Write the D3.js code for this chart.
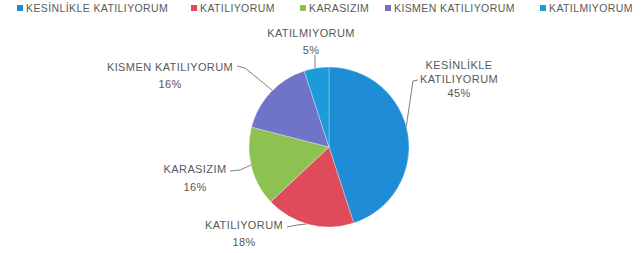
<!DOCTYPE html>
<html>
<head>
<meta charset="utf-8">
<script src="https://cdn.jsdelivr.net/npm/d3@7"></script>
<style>
  body { margin: 0; background: #fff; }
  svg text { font-family: "Liberation Sans", Arial, sans-serif; fill: #595959; letter-spacing: 0.4px; }
</style>
</head>
<body>
<script>
// answers, in the order the pie is drawn (clockwise from 12 o'clock)
let categories = ["KESİNLİKLE KATILIYORUM", "KATILIYORUM", "KARASIZIM", "KISMEN KATILIYORUM", "KATILMIYORUM"];
let percents = [45, 18, 16, 16, 5];
// label lines as shown next to each slice
let labelLines = [
    ["KESİNLİKLE", "KATILIYORUM"],
    ["KATILIYORUM"],
    ["KARASIZIM"],
    ["KISMEN KATILIYORUM"],
    ["KATILMIYORUM"]
];

let width = 642,
    height = 253;

let cx = 329, cy = 147, radius = 80;

let svg = d3.select("body").append("svg")
    .attr("width", width)
    .attr("height", height);

let color = d3.scaleOrdinal()
    .domain(categories)
    .range(["#1f8dd6", "#e04b5c", "#8dc253", "#7074c9", "#1b9bd8"]);

let pie = d3.pie().sort(null).value(d => d.value);
let arcs = pie(categories.map((c, i) => ({name: c, value: percents[i]})));

let arc = d3.arc().innerRadius(0).outerRadius(radius);

let pieG = svg.append("g").attr("transform", `translate(${cx},${cy})`);

pieG.selectAll("path")
    .data(arcs)
    .join("path")
    .attr("d", arc)
    .attr("fill", d => color(d.data.name))
    .attr("stroke", "#fff")
    .attr("stroke-opacity", 0.5)
    .attr("stroke-width", 0.6);

// label placement (Excel "best fit" style), relative to the pie centre:
// label block centre, leader start + knee, and angle where the leader meets the pie
let labelPos = [
    {dx: 130, dy: -68, lh: 14, start: [89, -67], knee: [84, -66], edge: 75},
    {dx: -85, dy: 86, lh: 17, start: [-42, 80], knee: [-32, 78], edge: 196},
    {dx: -134, dy: 31, lh: 18, start: [-99, 24], knee: [-89, 23], edge: 257},
    {dx: -159, dy: -72, lh: 17, start: [-92, -81], knee: [-84, -79], edge: 315},
    {dx: -18, dy: -106, lh: 17, start: [-14, -92], knee: null, edge: 350}
];

let labelG = pieG.append("g");

arcs.forEach((a, i) => {
    let p = labelPos[i];
    let lines = labelLines[i].concat([d3.format(".0%")(a.value / 100)]);
    let n = lines.length;
    let t = labelG.append("text")
        .attr("text-anchor", "middle")
        .attr("font-size", 11);
    lines.forEach((l, j) => {
        t.append("tspan")
            .attr("x", p.dx)
            .attr("y", p.dy + (j - (n - 1) / 2) * p.lh + 4)
            .text(l);
    });

    // leader line to the edge of the slice
    let ang = p.edge * Math.PI / 180;
    let end = [Math.sin(ang) * radius, -Math.cos(ang) * radius];
    let pts = [p.start];
    if (p.knee) pts.push(p.knee);
    pts.push(end);
    labelG.append("path")
        .attr("d", d3.line()(pts))
        .attr("fill", "none")
        .attr("stroke", "#7f7f7f")
        .attr("stroke-width", 1);
});

// legend along the top
let legendX = [17, 191, 300, 385, 540];
let legend = svg.append("g").attr("transform", "translate(0,8)");
categories.forEach((c, i) => {
    let g = legend.append("g").attr("transform", `translate(${legendX[i]},0)`);
    g.append("rect")
        .attr("x", 0).attr("y", -3)
        .attr("width", 6).attr("height", 6)
        .attr("fill", color(c));
    g.append("text")
        .attr("x", 9).attr("y", 4)
        .attr("font-size", 10.5)
        .text(c);
});
</script>
</body>
</html>
